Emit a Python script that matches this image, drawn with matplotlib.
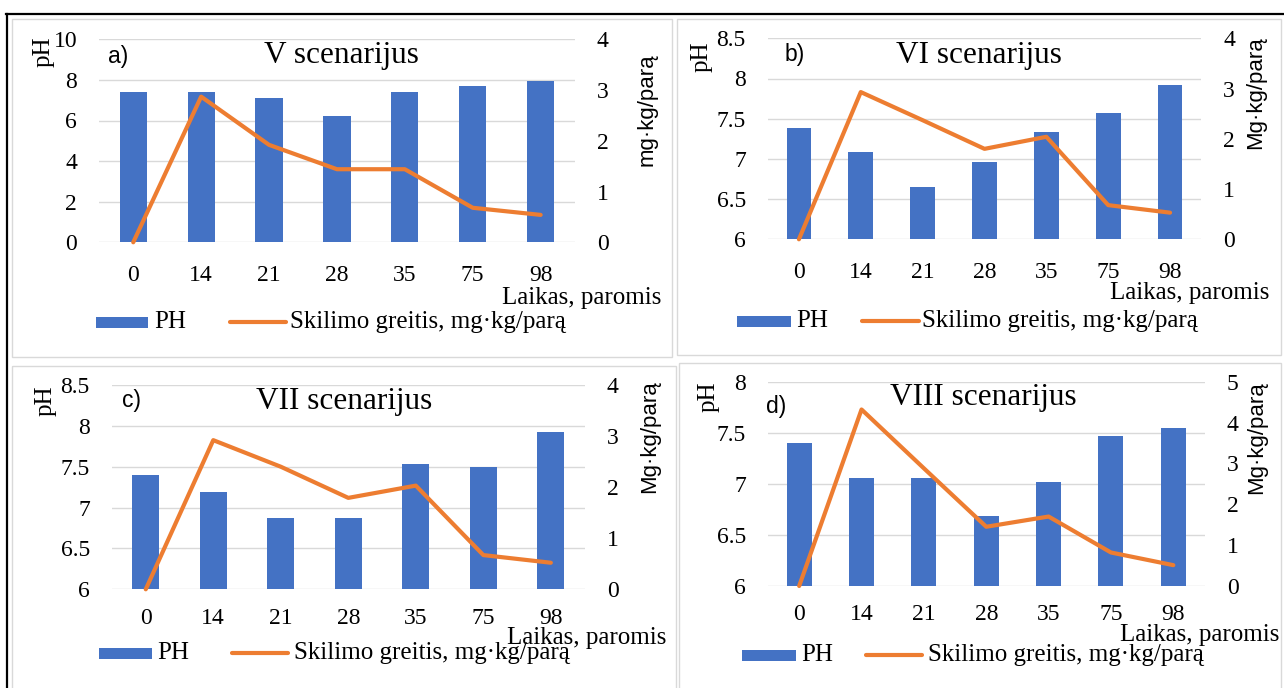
import matplotlib
matplotlib.use('Agg')
import matplotlib.pyplot as plt
from matplotlib.patches import Rectangle
from matplotlib.lines import Line2D
from matplotlib.ticker import MultipleLocator, FuncFormatter

# ---------------- data ----------------
days = ['0', '14', '21', '28', '35', '75', '98']

ph_a = [7.38, 7.38, 7.10, 6.20, 7.38, 7.70, 7.96]
rate_a = [0.0, 2.87, 1.92, 1.44, 1.44, 0.68, 0.54]

ph_b = [7.39, 7.09, 6.65, 6.96, 7.33, 7.57, 7.92]
rate_b = [0.0, 2.93, 2.37, 1.80, 2.04, 0.68, 0.53]

ph_c = [7.40, 7.19, 6.87, 6.87, 7.53, 7.50, 7.92]
rate_c = [0.0, 2.92, 2.40, 1.79, 2.03, 0.67, 0.52]

ph_d = [7.40, 7.06, 7.06, 6.69, 7.02, 7.47, 7.55]
rate_d = [0.0, 4.32, 2.88, 1.45, 1.70, 0.82, 0.51]

titles = ['V scenarijus', 'VI scenarijus', 'VII scenarijus', 'VIII scenarijus']
letters = ['a)', 'b)', 'c)', 'd)']
left_label = 'pH'
right_labels = ['mg·kg/parą', 'Mg·kg/parą', 'Mg·kg/parą', 'Mg·kg/parą']
xlabel = 'Laikas, paromis'
legend_bar = 'PH'
legend_line = 'Skilimo greitis, mg·kg/parą'

left_lims = [(0, 10, 2), (6, 8.5, 0.5), (6, 8.5, 0.5), (6, 8, 0.5)]
right_lims = [(0, 4, 1), (0, 4, 1), (0, 4, 1), (0, 5, 1)]
ph_all = [ph_a, ph_b, ph_c, ph_d]
rate_all = [rate_a, rate_b, rate_c, rate_d]

# ---------------- layout (pixels) ----------------
W, H = 1284, 688
BLUE = '#4472C4'
ORANGE = '#ED7D31'
GRID = '#D9D9D9'
SERIF = ['Liberation Serif', 'DejaVu Serif']
SANS = ['Liberation Sans', 'DejaVu Sans']

plt.rcParams['font.family'] = SERIF

layout = [
    dict(ax=(99.3, 574.6, 39.3, 242.3), ph=(44, 52), let=(108, 56), title=(341, 55), xpad=16,
         rl=(647, 110), xl=(661, 298), leg_y=322, patch=(96, 148), ph_t=154, line=(230, 286), txt=290,
         box=(12, 672, 19, 357)),
    dict(ax=(768, 1201, 38.3, 239.3), ph=(701.5, 56.5), let=(785, 55), title=(979, 55), xpad=16,
         rl=(1256, 93), xl=(1269, 293), leg_y=321, patch=(737, 791), ph_t=796, line=(862, 919), txt=922,
         box=(677, 1281, 19, 355)),
    dict(ax=(112, 584.6, 385, 589.3), ph=(46, 401), let=(122, 401), title=(344.5, 402), xpad=13.5,
         rl=(650, 437), xl=(666, 638), leg_y=653, patch=(99, 152), ph_t=157, line=(232, 288), txt=294,
         box=(12, 676, 366, 700)),
    dict(ax=(768, 1204.5, 381.7, 586), ph=(709, 397), let=(766, 407), title=(983, 398), xpad=13,
         rl=(1256.5, 438), xl=(1279, 635), leg_y=655, patch=(742, 796), ph_t=801, line=(866, 922), txt=928,
         box=(679, 1281, 363, 700)),
]

fig = plt.figure(figsize=(W / 100, H / 100), dpi=100)
fig.patch.set_facecolor('white')

ov = fig.add_axes([0, 0, 1, 1])
ov.set_xlim(0, W)
ov.set_ylim(H, 0)
ov.axis('off')

# outer black frame (top and left)
ov.add_line(Line2D([5.5, W], [13.5, 13.5], color='black', lw=1.6))
ov.add_line(Line2D([6.5, 6.5], [13.5, H], color='black', lw=1.6))


def fig_rect(x0, x1, ytop, ybot):
    return [x0 / W, 1 - ybot / H, (x1 - x0) / W, (ybot - ytop) / H]


fmt = FuncFormatter(lambda v, p: ('%g' % v))

for i, L in enumerate(layout):
    bx0, bx1, by0, by1 = L['box']
    ov.add_patch(Rectangle((bx0, by0), bx1 - bx0, by1 - by0, fill=False,
                           edgecolor=GRID, lw=1.0))

    ax = fig.add_axes(fig_rect(*L['ax']))
    ax.patch.set_alpha(0)
    x = list(range(len(days)))
    ax.bar(x, ph_all[i], width=0.4, color=BLUE, zorder=2)
    lo, hi, st = left_lims[i]
    ax.set_ylim(lo, hi)
    ax.yaxis.set_major_locator(MultipleLocator(st))
    ax.yaxis.set_major_formatter(fmt)
    ax.set_xlim(-0.5, len(days) - 0.5)
    ax.set_xticks(x)
    ax.set_xticklabels(days)
    ax.grid(axis='y', color=GRID, lw=1.0)
    ax.set_axisbelow(True)
    for s in ax.spines.values():
        s.set_visible(False)
    ax.tick_params(axis='y', length=0, labelsize=17, pad=16)
    ax.tick_params(axis='x', length=0, labelsize=17, pad=L['xpad'])

    ax2 = ax.twinx()
    ax2.plot(x, rate_all[i], color=ORANGE, lw=3.0, solid_joinstyle='round',
             solid_capstyle='round', clip_on=False, zorder=3)
    rlo, rhi, rst = right_lims[i]
    ax2.set_ylim(rlo, rhi)
    ax2.yaxis.set_major_locator(MultipleLocator(rst))
    ax2.yaxis.set_major_formatter(fmt)
    for s in ax2.spines.values():
        s.set_visible(False)
    ax2.tick_params(axis='y', length=0, labelsize=17, pad=16)
    for t in ax.get_xticklabels() + ax.get_yticklabels() + ax2.get_yticklabels():
        t.set_fontfamily(SERIF)

    # texts
    ov.text(*L['ph'], left_label, family=SERIF, rotation=90, ha='center', va='center', fontsize=18)
    ov.text(*L['let'], letters[i], family=SANS, ha='left', va='center', fontsize=16.5)
    ov.text(*L['title'], titles[i], family=SERIF, ha='center', va='center', fontsize=22.5)
    ov.text(*L['rl'], right_labels[i], family=SANS, rotation=90, ha='center', va='center', fontsize=16)
    ov.text(*L['xl'], xlabel, family=SERIF, ha='right', va='center', fontsize=18)

    # legend
    ly = L['leg_y']
    p0, p1 = L['patch']
    ov.add_patch(Rectangle((p0, ly - 5.5), p1 - p0, 11, color=BLUE, lw=0))
    ov.text(L['ph_t'], ly, legend_bar, family=SERIF, ha='left', va='center', fontsize=18)
    l0, l1 = L['line']
    ov.add_line(Line2D([l0, l1], [ly, ly], color=ORANGE, lw=3.0, solid_capstyle='round'))
    ov.text(L['txt'], ly, legend_line, family=SERIF, ha='left', va='center', fontsize=18)

fig.savefig('out.png', dpi=100, facecolor='white')
